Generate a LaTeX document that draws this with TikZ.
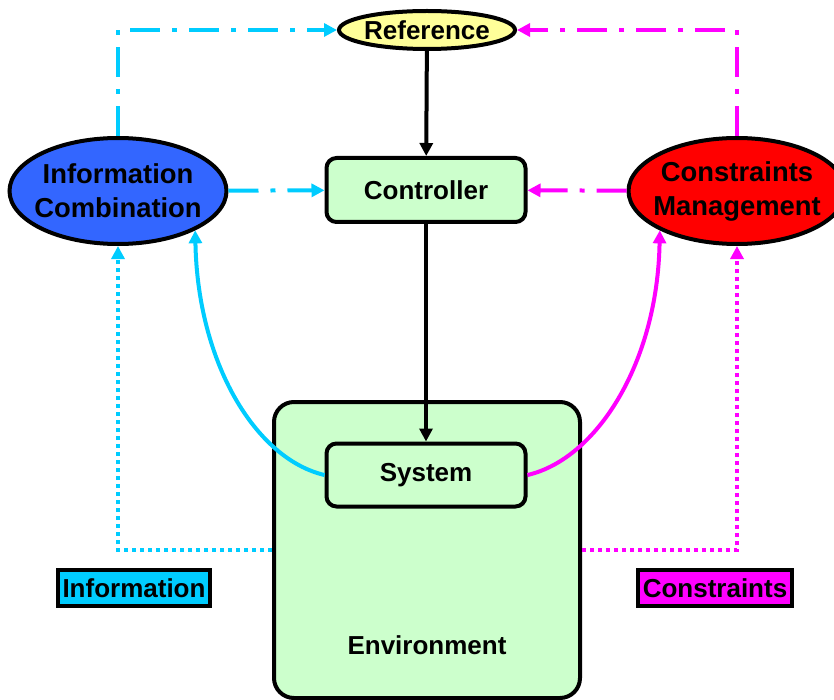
\documentclass[tikz,border=0pt]{standalone}
\usepackage{fontspec}
\setmainfont{Liberation Sans}
\usetikzlibrary{shapes.geometric,arrows.meta}
\definecolor{infocyan}{HTML}{00CCFF}
\definecolor{consmag}{HTML}{FF00FF}
\definecolor{boxgreen}{HTML}{CCFFCC}
\definecolor{refyellow}{HTML}{FFFF99}
\definecolor{combblue}{HTML}{3366FF}
\tikzset{
	every node/.style={font=\fontsize{13}{17}\selectfont\bfseries},
	oval/.style={ellipse,draw,line width=2pt,inner xsep=-4pt,inner ysep=2pt,align=center},
	bigoval/.style={oval,font=\fontsize{13.7}{17}\selectfont\bfseries,minimum width=108.5pt,minimum height=53pt},
	block/.style={rectangle,rounded corners=5pt,draw,line width=2pt,fill=boxgreen,minimum width=99.5pt,minimum height=32pt},
	tag/.style={rectangle,draw,line width=2pt,inner xsep=2.5pt,inner ysep=1pt,minimum height=18pt},
	tip/.style={-{Triangle[length=6.5pt,width=6.5pt]}},
	dashdot/.style={dash pattern=on 15pt off 6pt on 2.5pt off 6pt},
	dots/.style={dash pattern=on 2pt off 2pt},
}
\begin{document}
\begin{tikzpicture}[x=0.5pt,y=-0.5pt,line width=2pt]
			\useasboundingbox (0,0) rectangle (834,700);
			\node [block,rounded corners=10pt,minimum width=153pt,minimum height=148pt] (env) at (427,550) {};
			\node (envtext) at (427,645) {Environment};
			\node [oval,fill=refyellow,minimum width=88pt,minimum height=19pt,inner ysep=0pt] (ref) at (427,30) {Reference};
			\node [block] (ctrl) at (426,190) {Controller};
			\node [block,minimum height=31.5pt] (sys) at (426,475) {System};
			\node [bigoval,fill=combblue] (comb) at (118,191) {Information\\Combination};
			\node [bigoval,fill=red] (cons) at (737,191) {Constraints\\Management};
			\node [tag,fill=infocyan] (infotag) at (134,588) {Information};
			\node [tag,fill=consmag] (constag) at (715,588) {Constraints};
			\draw [tip] (ref) -- (ctrl);
			\draw [tip] (ctrl) -- (sys);
			\draw [tip,infocyan,dashdot] (comb) -- (ctrl);
			\draw [tip,consmag,dashdot] (cons) -- (ctrl);
			\draw [tip,infocyan,dashdot] (comb.north) |- (ref.west);
			\draw [tip,consmag,dashdot] (cons.north) |- (ref.east);
			\draw [tip,infocyan] (sys.west) to [out=167,in=-89,out looseness=0.65,in looseness=1.23] (comb.-27);
			\draw [tip,consmag] (sys.east) to [out=13,in=-91,out looseness=0.65,in looseness=1.23] (cons.-153);
			\draw [tip,infocyan,dots] (env.west) -| (comb.south);
			\draw [tip,consmag,dots] (env.east) -| (cons.south);
\end{tikzpicture}
\end{document}
